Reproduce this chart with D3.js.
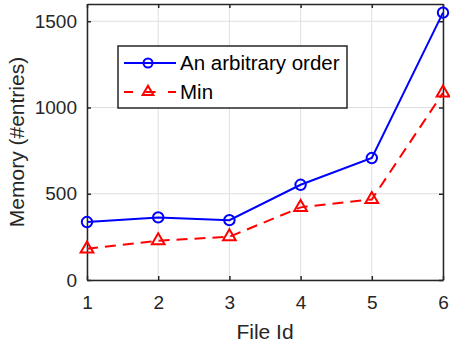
<!DOCTYPE html>
<html>
<head>
<meta charset="utf-8">
<script src="https://cdn.jsdelivr.net/npm/d3@7"></script>
<style>
  html, body { margin: 0; padding: 0; background: #fff; }
  svg { display: block; font-family: "Liberation Sans", Arial, Helvetica, sans-serif; }
</style>
</head>
<body>
<svg id="chart" width="450" height="349"></svg>
<script>
// Memory usage per file for two ordering strategies
const fileIds = [1, 2, 3, 4, 5, 6];
const arbitraryOrder = [336, 363, 347, 552, 707, 1550];
const minOrder = [181, 228, 251, 421, 467, 1085];
const yTicks = [0, 500, 1000, 1500];
const seriesNames = ["An arbitrary order", "Min"];

const svg = d3.select("#chart");
const margin = { left: 87, right: 7, top: 4, bottom: 69 };
const W = 450, H = 349;
const axisColor = "#262626";
const tickFont = 19, labelFont = 21, legendFont = 20.5;

const x = d3.scaleLinear().domain([1, 6]).range([margin.left, W - margin.right]);
const y = d3.scaleLinear().domain([0, 1600]).range([H - margin.bottom, margin.top]);

// grid
const grid = svg.append("g");
grid.selectAll("line.vx").data(fileIds).join("line")
  .attr("x1", d => x(d)).attr("x2", d => x(d))
  .attr("y1", y(0)).attr("y2", y(1600))
  .attr("stroke", "#dfdfdf").attr("stroke-width", 1);
grid.selectAll("line.hy").data(yTicks).join("line")
  .attr("x1", x(1)).attr("x2", x(6))
  .attr("y1", d => y(d)).attr("y2", d => y(d))
  .attr("stroke", "#dfdfdf").attr("stroke-width", 1);

// axes with inward ticks
function styleAxis(g) {
  g.selectAll("path.domain").attr("stroke", axisColor).attr("stroke-width", 1.5);
  g.selectAll(".tick line").attr("stroke", axisColor).attr("stroke-width", 1.5);
  g.selectAll(".tick text").attr("fill", axisColor).attr("font-size", tickFont)
    .attr("font-family", "Liberation Sans, Arial, sans-serif");
}
svg.append("g").attr("transform", `translate(0,${y(0)})`)
  .call(d3.axisBottom(x).tickValues(fileIds).tickFormat(d3.format("d")).tickSizeInner(-4).tickSizeOuter(0).tickPadding(16))
  .call(styleAxis);
svg.append("g").attr("transform", `translate(0,${y(1600)})`)
  .call(d3.axisTop(x).tickValues(fileIds).tickFormat("").tickSizeInner(-4).tickSizeOuter(0))
  .call(styleAxis);
svg.append("g").attr("transform", `translate(${x(1)},0)`)
  .call(d3.axisLeft(y).tickValues(yTicks).tickFormat(d3.format("d")).tickSizeInner(-4).tickSizeOuter(0).tickPadding(10))
  .call(styleAxis);
svg.append("g").attr("transform", `translate(${x(6)},0)`)
  .call(d3.axisRight(y).tickValues(yTicks).tickFormat("").tickSizeInner(-4).tickSizeOuter(0))
  .call(styleAxis);

// axis labels
svg.append("text").attr("x", (x(1) + x(6)) / 2).attr("y", 339)
  .attr("text-anchor", "middle").attr("font-size", labelFont).attr("fill", axisColor).text("File Id");
svg.append("text").attr("transform", `translate(24,${(y(0) + y(1600)) / 2}) rotate(-90)`)
  .attr("text-anchor", "middle").attr("font-size", labelFont).attr("fill", axisColor).text("Memory (#entries)");

const blue = "#0000ff", red = "#ff0000";
const line = d3.line().x((d, i) => x(fileIds[i])).y(d => y(d));
const tri = d3.symbol().type(d3.symbolTriangle).size(70);

// series 1
svg.append("path").datum(arbitraryOrder).attr("d", line)
  .attr("fill", "none").attr("stroke", blue).attr("stroke-width", 2);
svg.selectAll("circle.s1").data(arbitraryOrder).join("circle")
  .attr("cx", (d, i) => x(fileIds[i])).attr("cy", d => y(d)).attr("r", 5.2)
  .attr("fill", "none").attr("stroke", blue).attr("stroke-width", 2);

// series 2
svg.append("path").datum(minOrder).attr("d", line)
  .attr("fill", "none").attr("stroke", red).attr("stroke-width", 2).attr("stroke-dasharray", "11,7");
svg.selectAll("path.s2").data(minOrder).join("path")
  .attr("transform", (d, i) => `translate(${x(fileIds[i])},${y(d)})`)
  .attr("d", tri).attr("fill", "none").attr("stroke", red).attr("stroke-width", 2);

// legend
const lg = svg.append("g");
lg.append("rect").attr("x", 118).attr("y", 46).attr("width", 229).attr("height", 62)
  .attr("fill", "#fff").attr("stroke", axisColor).attr("stroke-width", 1.5);
const rows = [63, 92];
lg.append("line").attr("x1", 124).attr("x2", 176).attr("y1", rows[0]).attr("y2", rows[0])
  .attr("stroke", blue).attr("stroke-width", 2);
lg.append("circle").attr("cx", 148).attr("cy", rows[0]).attr("r", 4.5)
  .attr("fill", "none").attr("stroke", blue).attr("stroke-width", 2);
lg.append("line").attr("x1", 124).attr("x2", 176).attr("y1", rows[1]).attr("y2", rows[1])
  .attr("stroke", red).attr("stroke-width", 2).attr("stroke-dasharray", "9,12.5,10,12.5,9");
lg.append("path").attr("transform", `translate(148,${rows[1]})`).attr("d", d3.symbol().type(d3.symbolTriangle).size(50))
  .attr("fill", "none").attr("stroke", red).attr("stroke-width", 2);
lg.selectAll("text").data(seriesNames).join("text")
  .attr("x", 180).attr("y", (d, i) => rows[i]).attr("dy", "0.35em")
  .attr("font-size", legendFont).attr("fill", "#000").text(d => d);
</script>
</body>
</html>
